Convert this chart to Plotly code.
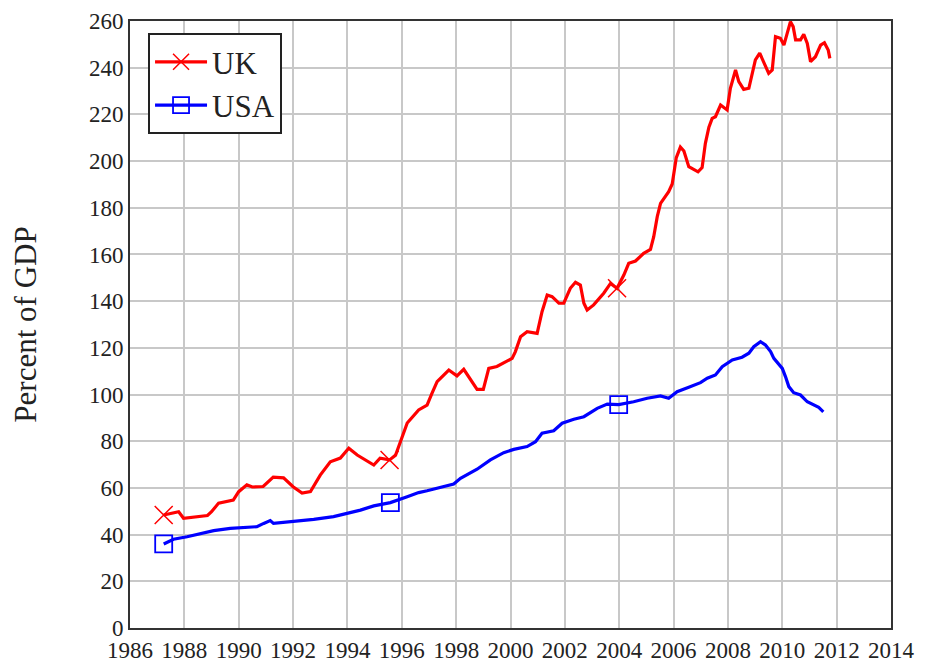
import plotly.graph_objects as go

# ---- data ----
uk_year = [1987.24, 1987.79, 1987.97, 1988.3, 1988.85, 1989.0, 1989.26, 1989.8, 1990.0, 1990.3,
           1990.5, 1990.9, 1991.27, 1991.65, 1992.0, 1992.33, 1992.64, 1993.0, 1993.37, 1993.74,
           1994.05, 1994.36, 1994.97, 1995.2, 1995.55, 1995.77, 1995.95, 1996.2, 1996.62, 1996.93,
           1997.11, 1997.3, 1997.73, 1998.03, 1998.28, 1998.77, 1999.0, 1999.2, 1999.5, 1999.75,
           2000.06, 2000.18, 2000.37, 2000.61, 2000.98, 2001.16, 2001.35, 2001.53, 2001.78, 2001.96,
           2002.2, 2002.39, 2002.57, 2002.7, 2002.82, 2003.06, 2003.43, 2003.68, 2003.92, 2004.17,
           2004.35, 2004.6, 2004.9, 2005.15, 2005.27, 2005.4, 2005.52, 2005.82, 2005.95, 2006.1,
           2006.25, 2006.38, 2006.56, 2006.9, 2007.05, 2007.17, 2007.3, 2007.42, 2007.54, 2007.73,
           2007.97, 2008.09, 2008.28, 2008.4, 2008.58, 2008.77, 2009.01, 2009.17, 2009.32, 2009.5,
           2009.63, 2009.75, 2009.93, 2010.06, 2010.18, 2010.3, 2010.4, 2010.49, 2010.67, 2010.79,
           2010.92, 2011.04, 2011.22, 2011.41, 2011.55, 2011.69, 2011.75]
uk_pct = [48.4, 49.8, 47.0, 47.5, 48.2, 49.8, 53.5, 54.8, 58.4, 61.3,
          60.4, 60.6, 64.6, 64.3, 60.5, 57.8, 58.4, 65.5, 71.2, 72.8,
          77.0, 74.1, 69.8, 72.7, 72.0, 74.0, 79.5, 87.8, 93.4, 95.5,
          100.5, 105.5, 110.5, 108.0, 110.8, 102.2, 102.2, 111.2, 112.0, 113.6,
          115.5, 118.4, 124.8, 126.9, 126.2, 135.5, 142.6, 141.9, 139.1, 139.1,
          145.5, 148.1, 146.9, 139.1, 136.2, 138.4, 143.4, 147.6, 145.5, 151.2,
          156.2, 157.2, 160.5, 162.2, 167.6, 176.2, 181.9, 186.9, 190.2, 201.5,
          206.0, 204.3, 197.6, 195.4, 197.2, 207.6, 214.5, 218.3, 219.0, 224.0,
          221.9, 231.2, 239.0, 234.0, 230.7, 231.2, 243.3, 246.2, 241.9, 237.6,
          239.0, 253.3, 252.6, 249.7, 254.7, 259.7, 257.6, 251.9, 251.9, 254.3,
          250.4, 242.6, 244.7, 249.7, 250.7, 247.6, 244.0]
uk_marker_years = [1987.24, 1995.55, 2003.92]

usa_year = [1987.24, 1987.6, 1988.1, 1988.59, 1989.08, 1989.69, 1990.67, 1990.92, 1991.16, 1991.28,
            1992.02, 1992.76, 1993.49, 1993.99, 1994.48, 1994.97, 1995.58, 1996.2, 1996.62, 1996.93,
            1997.48, 1997.91, 1998.16, 1998.77, 1999.26, 1999.75, 2000.12, 2000.61, 2000.92, 2001.16,
            2001.59, 2001.9, 2002.33, 2002.7, 2003.19, 2003.56, 2003.98, 2004.53, 2005.03, 2005.52,
            2005.82, 2006.13, 2006.56, 2006.99, 2007.24, 2007.54, 2007.79, 2008.16, 2008.52, 2008.77,
            2008.95, 2009.2, 2009.38, 2009.57, 2009.69, 2010.0, 2010.12, 2010.24, 2010.42, 2010.67,
            2010.92, 2011.16, 2011.34, 2011.51]
usa_pct = [36.0, 38.0, 39.1, 40.3, 41.7, 42.7, 43.4, 44.8, 46.0, 44.8,
           45.5, 46.5, 47.7, 49.1, 50.5, 52.3, 53.7, 56.2, 58.0, 58.8,
           60.3, 61.7, 64.1, 68.0, 72.0, 75.1, 76.5, 77.7, 79.8, 83.4,
           84.5, 87.7, 89.4, 90.5, 94.1, 95.9, 95.7, 96.9, 98.4, 99.4,
           98.4, 101.2, 103.1, 105.1, 107.0, 108.4, 111.9, 114.8, 116.0, 117.7,
           120.5, 122.6, 121.2, 118.4, 115.5, 111.2, 107.6, 103.4, 100.8, 99.8,
           96.9, 95.5, 94.5, 92.6]
usa_marker_years = [1987.24, 1995.58, 2003.98]

x_ticks = list(range(1986, 2015, 2))
y_ticks = list(range(0, 261, 20))

RED = "#ff0000"
BLUE = "#0000ff"
FONT = "Liberation Serif, Times New Roman, serif"

fig = go.Figure()

def add_series(name, xs, ys, marker_years, color, symbol, msize, mlw):
    fig.add_trace(go.Scatter(x=xs, y=ys, mode="lines", line=dict(color=color, width=3.2),
                             showlegend=False, hoverinfo="skip"))
    mx = [x for x in xs if x in marker_years]
    my = [y for x, y in zip(xs, ys) if x in marker_years]
    fig.add_trace(go.Scatter(x=mx, y=my, mode="markers",
                             marker=dict(symbol=symbol, size=msize, color=color,
                                         line=dict(color=color, width=mlw)),
                             showlegend=False))
    fig.add_trace(go.Scatter(x=[None], y=[None], mode="lines+markers", name=name,
                             line=dict(color=color, width=3.2),
                             marker=dict(symbol=symbol, size=msize, color=color,
                                         line=dict(color=color, width=mlw))))

add_series("UK", uk_year, uk_pct, uk_marker_years, RED, "x-thin-open", 18, 1.5)
add_series("USA", usa_year, usa_pct, usa_marker_years, BLUE, "square-open", 17, 1.8)

# page body has an 8px margin, so the figure is 917x654 and sits at (8, 8)
fig.update_layout(
    template="none",
    width=917, height=654,
    margin=dict(l=122, r=34, t=13, b=34, autoexpand=False),
    paper_bgcolor="white", plot_bgcolor="white",
    font=dict(family=FONT, size=23, color="#222222"),
    showlegend=True,
    legend=dict(x=0.0237, y=0.980, xanchor="left", yanchor="top",
                bgcolor="white", bordercolor="#222222", borderwidth=2,
                font=dict(family=FONT, size=31, color="#222222"),
                itemwidth=52, tracegroupgap=0),
)
fig.update_xaxes(range=[1986, 2014], tickmode="array", tickvals=x_ticks,
                 ticktext=[str(t) for t in x_ticks], showgrid=True, gridcolor="#c8c8c8",
                 gridwidth=2, showline=True, linecolor="#333333", linewidth=2, mirror=True,
                 ticks="", ticklen=0, zeroline=False, automargin=False,
                 tickfont=dict(family=FONT, size=23, color="#222222"))
fig.update_yaxes(range=[0, 260], tickmode="array", tickvals=y_ticks,
                 ticktext=[str(t) for t in y_ticks], showgrid=True, gridcolor="#c8c8c8",
                 gridwidth=2, showline=True, linecolor="#333333", linewidth=2, mirror=True,
                 ticks="", ticklen=0, zeroline=False, automargin=False,
                 tickfont=dict(family=FONT, size=23, color="#222222"),
                 title=dict(text="Percent of GDP", standoff=50,
                            font=dict(family=FONT, size=31, color="#222222")))

fig.write_html("out.html")
